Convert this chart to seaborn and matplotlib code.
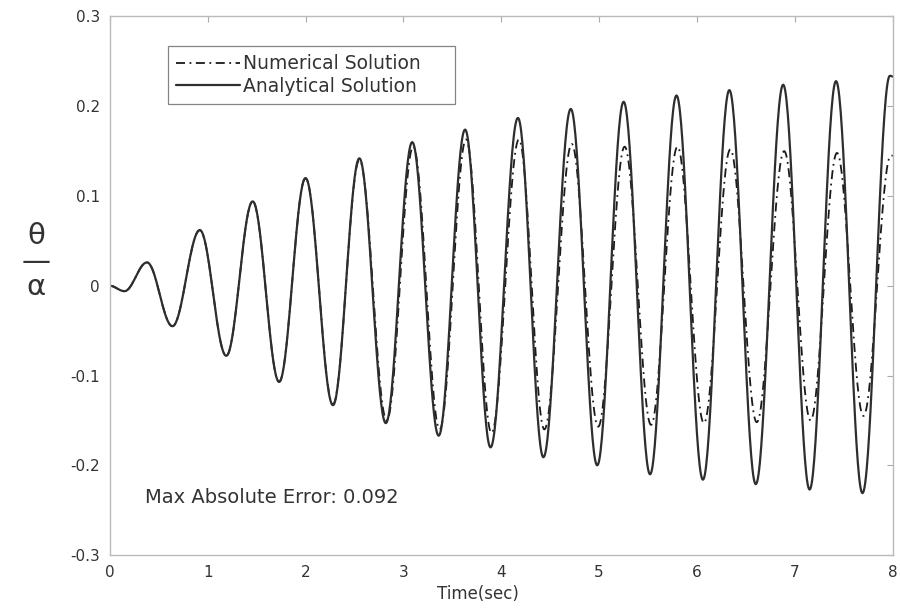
import numpy as np
import pandas as pd
import matplotlib
matplotlib.use("Agg")
import matplotlib.pyplot as plt
import seaborn as sns

# Extrema (time in sec, theta/alpha)
ana_t = [0.00, 0.15, 0.38, 0.64, 0.92, 1.19, 1.46, 1.73, 2.00, 2.28, 2.55, 2.82,
         3.09, 3.36, 3.63, 3.89, 4.17, 4.43, 4.71, 4.98, 5.25, 5.52, 5.79, 6.06,
         6.33, 6.60, 6.88, 7.15, 7.42, 7.69, 7.97, 8.00]
ana_y = [0.000, -0.006, 0.026, -0.045, 0.062, -0.078, 0.094, -0.107, 0.120, -0.133,
         0.142, -0.153, 0.160, -0.167, 0.174, -0.180, 0.187, -0.191, 0.197, -0.200,
         0.205, -0.210, 0.212, -0.216, 0.218, -0.221, 0.224, -0.227, 0.228, -0.231,
         0.234, 0.233]

num_t = [0.00, 0.15, 0.38, 0.64, 0.92, 1.19, 1.46, 1.73, 2.00, 2.28, 2.55, 2.83,
         3.10, 3.37, 3.64, 3.90, 4.18, 4.44, 4.72, 4.99, 5.26, 5.53, 5.80, 6.07,
         6.34, 6.61, 6.89, 7.16, 7.43, 7.70, 7.98, 8.00]
num_y = [0.000, -0.006, 0.026, -0.045, 0.062, -0.078, 0.094, -0.107, 0.120, -0.132,
         0.140, -0.150, 0.155, -0.160, 0.163, -0.164, 0.163, -0.160, 0.158, -0.157,
         0.155, -0.155, 0.155, -0.153, 0.152, -0.152, 0.150, -0.150, 0.148, -0.145,
         0.145, 0.145]

x_ticks = [0, 1, 2, 3, 4, 5, 6, 7, 8]
y_ticks = [-0.3, -0.2, -0.1, 0, 0.1, 0.2, 0.3]
y_tick_labels = ["-0.3", "-0.2", "-0.1", "0", "0.1", "0.2", "0.3"]
legend_labels = ["Numerical Solution", "Analytical Solution"]
y_label = "θ\n—\nα"
annotation = "Max Absolute Error: 0.092"


def smooth(tk, yk, n=40):
    # half-cosine joins between consecutive extrema
    ts, ys = [], []
    for i in range(len(tk) - 1):
        s = np.linspace(0, 1, n, endpoint=False)
        w = (1 - np.cos(np.pi * s)) / 2
        ts.append(tk[i] + (tk[i + 1] - tk[i]) * s)
        ys.append(yk[i] + (yk[i + 1] - yk[i]) * w)
    ts.append([tk[-1]])
    ys.append([yk[-1]])
    return np.concatenate(ts), np.concatenate(ys)


at, ay = smooth(ana_t, ana_y)
nt, ny = smooth(num_t, num_y)
df_a = pd.DataFrame({"t": at, "v": ay})
df_n = pd.DataFrame({"t": nt, "v": ny})

sns.set_style("white")
plt.rcParams["font.family"] = ["DejaVu Sans"]

fig = plt.figure(figsize=(9, 6.1), dpi=100)
ax = fig.add_axes([0.122, 0.090, 0.870, 0.883])

sns.lineplot(data=df_n, x="t", y="v", ax=ax, color="#1a1a1a", lw=1.3,
             linestyle=(0, (5, 2.5, 1, 2.5)), label=legend_labels[0],
             sort=False, estimator=None)
sns.lineplot(data=df_a, x="t", y="v", ax=ax, color="#2e2e2e", lw=1.6,
             label=legend_labels[1], sort=False, estimator=None)

ax.set_xlim(0, 8)
ax.set_ylim(-0.3, 0.3)
ax.set_xticks(x_ticks)
ax.set_yticks(y_ticks)
ax.set_yticklabels(y_tick_labels)
ax.tick_params(direction="in", length=4, width=0.8, color="#aaaaaa",
               labelsize=11, labelcolor="#333333", top=True, right=True, pad=7)
for sp in ax.spines.values():
    sp.set_color("#bbbbbb")
    sp.set_linewidth(1.0)

ax.set_xlabel("Time(sec)", fontsize=12, color="#333333")
ax.xaxis.set_label_coords(0.47, -0.055)
ax.set_ylabel(y_label, fontsize=21, rotation=0, color="#333333",
              va="center", ha="center", linespacing=0.9)
ax.yaxis.set_label_coords(-0.094, 0.545)

ax.text(0.36, -0.236, annotation, fontsize=14, color="#333333", va="center")

leg = ax.legend(loc="lower left", bbox_to_anchor=(0.074, 0.837, 0.367, 0.115),
                mode="expand", fontsize=13.5,
                frameon=True, fancybox=False, edgecolor="#666666",
                handlelength=3.4, handletextpad=0.15, borderpad=0.45,
                labelspacing=0.2, borderaxespad=0)
leg.get_frame().set_linewidth(0.9)
for txt in leg.get_texts():
    txt.set_color("#333333")

fig.savefig("out.png", dpi=100, facecolor="white")
